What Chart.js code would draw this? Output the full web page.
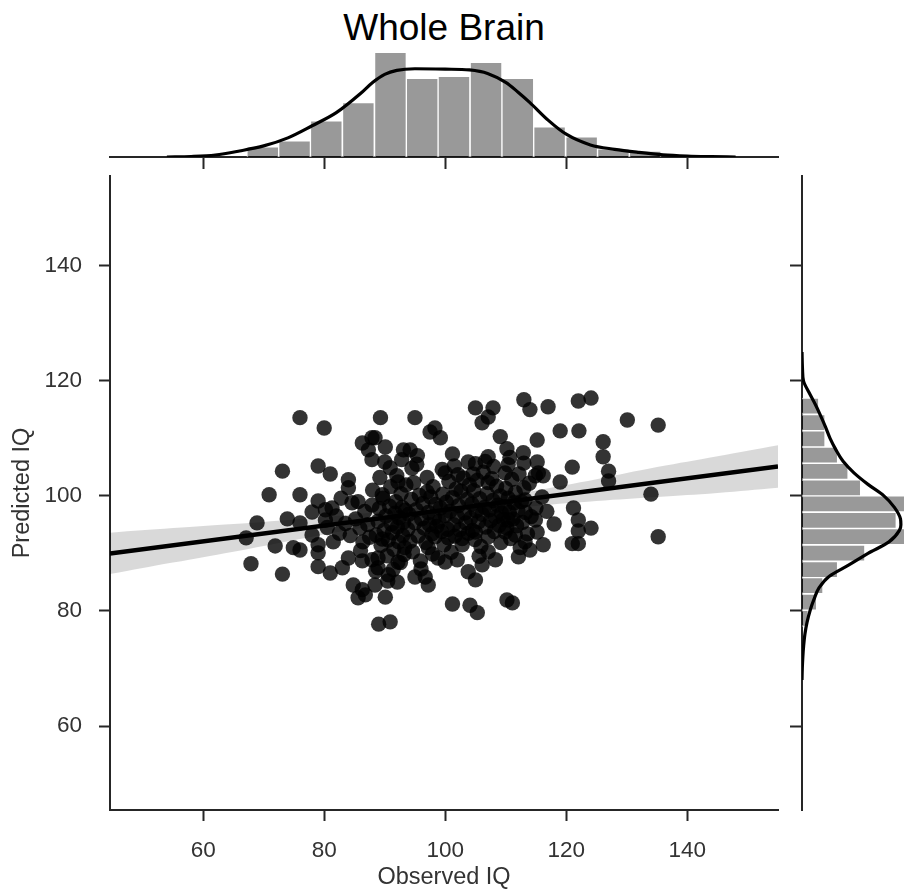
<!DOCTYPE html>
<html>
<head>
<meta charset="utf-8">
<script src="https://cdn.jsdelivr.net/npm/chart.js@4.4.0/dist/chart.umd.min.js"></script>
<style>
  html, body { margin: 0; padding: 0; background: #fff; overflow: hidden; width: 904px; height: 892px; }
  canvas { position: absolute; left: 0; top: 0; }
  #title { position: absolute; left: 110px; width: 668px; top: 9px; text-align: center;
           font: 37px 'Liberation Sans', Arial, sans-serif; line-height: 37px; color: #000; }
</style>
</head>
<body>
<div id="title">Whole Brain</div>
<canvas id="top" width="904" height="892"></canvas>
<canvas id="main" width="904" height="892"></canvas>
<canvas id="side" width="960" height="892"></canvas>
<script>
// axis ranges / ticks
const xMin = 44.6, xMax = 155.0;
const yMin = 45.4, yMax = 155.6;
const xTicks = [60, 80, 100, 120, 140];
const yTicks = [60, 80, 100, 120, 140];

// scatter: observed vs predicted IQ
const obsIQ = [
  67.1, 67.9, 68.9, 70.9, 71.9, 73.1, 73.1, 73.9, 74.9, 76.0,
  76.0, 76.0, 76.0, 78.0, 78.0, 79.0, 79.0, 79.0, 79.0, 79.0,
  80.0, 80.2, 80.2, 81.0, 81.3, 81.0, 83.0, 84.0, 84.0, 84.0,
  84.6, 84.8, 85.6, 86.3, 87.9, 87.9, 87.3, 87.9, 86.3, 85.6,
  86.8, 86.4, 86.3, 87.9, 88.4, 89.3, 90.1, 93.1, 90.9, 92.2,
  89.6, 90.1, 88.4, 90.9, 89.0, 92.1, 88.9, 88.9, 90.6, 92.2,
  95.0, 98.3, 97.5, 94.2, 95.4, 97.0, 95.0, 96.7, 97.2, 97.2,
  98.3, 99.2, 101.2, 103.8, 100.0, 102.1, 101.2, 98.8, 102.0, 100.0,
  102.8, 100.5, 103.8, 105.0, 107.9, 106.1, 107.1, 109.1, 107.1, 105.0,
  107.1, 104.1, 105.3, 105.0, 106.1, 108.3, 105.0, 107.1, 113.0, 114.0,
  110.2, 110.4, 113.0, 109.9, 110.2, 111.1, 112.1, 110.4, 111.6, 109.9,
  113.2, 114.0, 113.2, 117.0, 119.0, 115.2, 115.2, 115.4, 116.2, 114.9,
  119.0, 116.0, 118.0, 114.9, 115.2, 116.2, 115.0, 122.0, 124.1, 122.1,
  121.0, 121.2, 122.0, 124.1, 122.0, 121.0, 122.0, 130.1, 126.1, 126.1,
  127.0, 127.0, 135.2, 134.0, 135.2,
  // dense middle
  80.5, 82.0, 82.5, 81.5, 82.8, 83.5, 84.3, 85.2, 85.9, 86.7, 87.2, 86.0, 87.5, 88.0,
  88.6, 88.9, 89.1, 89.4, 89.7, 89.9, 90.2, 90.4, 90.6, 90.8,
  91.0, 91.1, 91.3, 91.5, 91.7, 91.8, 92.0, 92.1, 92.3, 92.4,
  92.6, 92.7, 92.9, 93.0, 93.1, 93.3, 93.4, 93.5, 88.5, 89.2,
  90.0, 90.5, 91.4, 92.8, 93.2, 89.6,
  93.8, 94.0, 94.2, 94.4, 94.6, 94.8, 95.0, 95.2, 95.5, 95.7,
  95.9, 96.1, 96.3, 96.5, 96.8, 97.0, 97.2, 97.4, 97.6, 97.8,
  98.0, 98.2, 98.4, 98.6, 94.5, 96.0, 97.9, 95.3,
  99.0, 99.2, 99.4, 99.6, 99.8, 100.0, 100.2, 100.4, 100.6, 100.8,
  101.0, 101.2, 101.4, 101.6, 101.8, 102.0, 102.2, 102.4, 102.6, 102.8,
  103.0, 103.2, 103.4, 103.6, 103.8, 104.0, 99.5, 101.5,
  104.2, 104.4, 104.5, 104.7, 104.9, 105.1, 105.3, 105.5, 105.7, 105.9,
  106.1, 106.3, 106.5, 106.7, 106.9, 107.1, 107.3, 107.5, 107.7, 107.9,
  108.1, 108.3, 108.5, 108.7, 108.9, 109.1, 109.3, 105.6, 106.6, 108.0, 104.6, 109.2,
  109.6, 109.8, 110.0, 110.2, 110.4, 110.6, 110.8, 111.0, 111.2, 111.4,
  111.6, 111.8, 112.0, 112.2, 112.4, 112.6, 112.8, 113.0, 113.3, 113.6,
  113.9, 114.2, 110.7, 112.9, 116.8
];
const predIQ = [
  92.7, 88.2, 95.3, 100.2, 91.3, 104.3, 86.4, 96.0, 91.0, 113.6,
  100.2, 95.3, 90.6, 97.2, 93.2, 105.2, 99.1, 91.5, 90.1, 87.7,
  111.8, 97.6, 95.8, 103.8, 97.9, 86.6, 87.5, 102.8, 101.4, 89.2,
  98.8, 84.5, 99.0, 109.2, 110.1, 106.3, 108.0, 98.4, 83.7, 82.3,
  82.8, 92.0, 88.7, 88.9, 110.1, 113.6, 108.5, 108.0, 104.9, 102.4,
  100.2, 82.4, 84.5, 78.1, 77.7, 85.0, 89.2, 87.5, 86.3, 88.5,
  113.6, 111.8, 111.1, 108.0, 107.0, 100.7, 85.9, 85.9, 84.5, 91.0,
  92.9, 110.1, 107.3, 105.9, 104.0, 103.7, 81.2, 89.2, 88.9, 88.5,
  91.5, 92.7, 86.8, 115.3, 115.3, 112.7, 113.7, 110.3, 106.8, 105.6,
  102.3, 81.0, 79.7, 85.4, 88.0, 88.9, 93.7, 90.3, 116.7, 115.0,
  108.2, 105.4, 105.7, 104.0, 81.9, 81.4, 89.4, 95.8, 93.2, 93.7,
  99.3, 90.6, 92.0, 115.5, 111.3, 109.7, 105.9, 104.0, 103.5, 103.5,
  102.4, 99.8, 95.1, 95.8, 93.7, 91.5, 97.9, 116.5, 117.0, 111.3,
  105.0, 97.9, 95.8, 94.4, 93.9, 91.7, 91.7, 113.2, 109.4, 106.8,
  104.3, 102.6, 112.3, 100.3, 92.9,
  // dense middle
  94.5, 96.5, 93.5, 92.0, 99.6, 95.2, 93.1, 96.0, 94.4, 97.3, 95.0, 90.5, 92.8, 101.0,
  93.2, 95.6, 97.8, 91.4, 99.6, 94.0, 96.5, 89.6, 92.3, 98.2,
  101.6, 95.1, 93.6, 90.7, 97.0, 99.0, 103.5, 94.6, 92.0, 96.2,
  88.4, 100.4, 98.0, 93.1, 95.4, 91.0, 97.5, 101.9, 86.9, 103.2,
  105.9, 85.2, 87.2, 106.3, 89.8, 92.5,
  94.2, 96.8, 92.1, 99.4, 90.3, 102.3, 95.3, 97.6, 93.0, 100.1,
  88.7, 96.0, 98.7, 94.4, 91.9, 103.2, 97.1, 95.0, 99.8, 93.4,
  101.6, 96.2, 98.5, 94.7, 104.8, 87.3, 89.9, 105.5,
  95.6, 97.9, 93.8, 100.3, 91.5, 96.6, 98.9, 94.2, 102.5, 97.3,
  90.2, 99.7, 95.0, 93.0, 101.2, 96.4, 98.3, 94.1, 100.8, 92.6,
  103.1, 97.0, 95.3, 99.4, 93.5, 101.9, 104.6, 105.2,
  96.1, 98.6, 94.0, 100.9, 92.4, 97.4, 102.7, 95.5, 99.5, 91.2,
  96.8, 104.1, 98.0, 94.6, 100.4, 92.9, 97.6, 95.7, 103.0, 99.2,
  93.8, 96.3, 101.7, 98.4, 94.9, 100.0, 97.0, 89.5, 106.0, 105.1, 103.8, 91.9,
  95.9, 98.1, 101.3, 94.4, 99.6, 97.1, 92.6, 102.9, 96.0, 98.8,
  100.6, 94.8, 97.5, 103.8, 91.0, 99.0, 95.4, 101.4, 97.1, 93.4,
  102.2, 96.4, 106.7, 107.5, 97.3
];

// regression line and its confidence band
const regX = [44.6, 155.0];
const regY = [90.0, 105.1];
const bandX  = [44.6, 55, 65, 75, 85, 95, 100, 105, 115, 125, 135, 145, 155];
const bandHi = [93.6, 94.4, 95.1, 95.9, 96.8, 97.9, 98.55, 99.2, 100.95, 102.9, 105.0, 106.9, 108.8];
const bandLo = [86.4, 88.4, 90.3, 92.3, 94.2, 95.9, 96.65, 97.2, 98.25, 99.1, 99.8, 100.5, 101.4];

// top margin: histogram + kde of Observed IQ
const topEdges = [67.2, 72.5, 77.7, 83.0, 88.3, 93.6, 98.8, 104.1, 109.4, 114.6, 119.9, 125.2, 130.4, 135.7];
const topCounts = [5, 8, 18, 27, 52, 39, 40, 47, 39, 15, 10, 4, 3];
const topKdeX = [54, 58, 62, 66, 70, 74, 78, 82, 86, 88, 90, 92, 95, 100, 104, 107, 110, 112, 114, 117, 120, 124, 128, 132, 136, 140, 144, 148];
const topKdeY = [0, 0.25, 1, 3, 5.5, 9.5, 15.5, 22, 31.5, 37, 41, 43, 43.8, 43.6, 43.2, 41.5, 37, 32.3, 27, 18.3, 11.3, 6, 3.8, 2.3, 1.1, 0.5, 0.2, 0];

// right margin: histogram + kde of Predicted IQ
const sideEdges = [77.3, 80.1, 83.0, 85.8, 88.6, 91.5, 94.3, 97.2, 100.0, 102.8, 105.7, 108.5, 111.3, 114.2, 117.0];
const sideCounts = [3, 7, 10, 17, 30, 50, 45, 49, 28, 22, 17, 11, 11, 8];
const sideKdeY = [68, 70, 72, 74, 76, 78, 80, 82, 84, 86, 88, 90, 92, 94, 95, 96, 98, 100, 102, 104, 106, 108, 110, 112, 114, 116, 118, 120, 122, 125];
const sideKdeX = [0, 0.14, 0.4, 0.8, 1.4, 2.4, 3.8, 5.7, 8.1, 12.9, 22.4, 31.5, 41.5, 46.5, 47.2, 47, 44.1, 39.1, 31.5, 24.8, 19.6, 16.2, 13.4, 11.2, 8.8, 6.2, 3.3, 0.7, 0.24, 0];

const ink = '#262626';
const labelInk = '#333';
Chart.defaults.font.family = "'Liberation Sans', Arial, sans-serif";
Chart.defaults.animation = false;

const setTicks = vals => s => { s.ticks = vals.map(v => ({ value: v })); };
const mids = edges => edges.slice(0, -1).map((e, i) => (e + edges[i + 1]) / 2);
const noPlugins = { legend: { display: false }, tooltip: { enabled: false } };

// main scatter
new Chart(document.getElementById('main'), {
  type: 'scatter',
  data: {
    datasets: [
      { type: 'line', data: regX.map((x, i) => ({ x, y: regY[i] })),
        borderColor: '#000', borderWidth: 4.5, pointRadius: 0, order: 0 },
      { type: 'line', data: bandX.map((x, i) => ({ x, y: bandHi[i] })),
        borderColor: 'rgba(0,0,0,0)', borderWidth: 0, pointRadius: 0, tension: 0.4,
        fill: '+1', backgroundColor: 'rgba(0,0,0,0.15)', order: 1 },
      { type: 'line', data: bandX.map((x, i) => ({ x, y: bandLo[i] })),
        borderColor: 'rgba(0,0,0,0)', borderWidth: 0, pointRadius: 0, tension: 0.4, fill: false, order: 2 },
      { type: 'scatter', data: obsIQ.map((x, i) => ({ x, y: predIQ[i] })),
        backgroundColor: 'rgba(0,0,0,0.8)', borderColor: 'rgba(0,0,0,0)', pointRadius: 7.7, pointBorderWidth: 0, order: 3 }
    ]
  },
  options: {
    responsive: false,
    layout: { padding: { left: 0, right: 126, top: 176, bottom: 0 }, autoPadding: false },
    plugins: noPlugins,
    scales: {
      x: {
        type: 'linear', min: xMin, max: xMax,
        afterBuildTicks: setTicks(xTicks),
        afterFit: s => { s.height = 82; },
        border: { display: true, color: ink, width: 2 },
        grid: { display: true, drawOnChartArea: false, drawTicks: true, tickLength: 11, tickColor: ink, tickWidth: 2 },
        ticks: { color: labelInk, font: { size: 22.5 }, padding: 16, maxRotation: 0, autoSkip: false },
        title: { display: true, text: 'Observed IQ', color: labelInk, font: { size: 23.5 }, padding: { top: 0, bottom: 0 } }
      },
      y: {
        type: 'linear', min: yMin, max: yMax,
        afterBuildTicks: setTicks(yTicks),
        afterFit: s => { s.width = 110; },
        border: { display: true, color: ink, width: 2 },
        grid: { display: true, drawOnChartArea: false, drawTicks: true, tickLength: 11, tickColor: ink, tickWidth: 2 },
        ticks: { color: labelInk, font: { size: 22.5 }, padding: 17, autoSkip: false },
        title: { display: true, text: 'Predicted IQ', color: labelInk, font: { size: 23.5 }, padding: { top: 8, bottom: 0 } }
      }
    }
  }
});

// top marginal
new Chart(document.getElementById('top'), {
  type: 'bar',
  data: {
    datasets: [
      { type: 'line', data: topKdeX.map((x, i) => ({ x, y: topKdeY[i] })),
        borderColor: '#000', borderWidth: 3.2, pointRadius: 0, cubicInterpolationMode: 'monotone', order: 0 },
      { type: 'bar', data: mids(topEdges).map((x, i) => ({ x, y: topCounts[i] })),
        backgroundColor: 'rgba(0,0,0,0.4)', borderColor: 'rgba(255,255,255,0.6)', borderWidth: 1,
        barPercentage: 1, categoryPercentage: 1, order: 1 }
    ]
  },
  options: {
    responsive: false,
    layout: { padding: { left: 110, right: 126, top: 47, bottom: 715 }, autoPadding: false },
    plugins: noPlugins,
    scales: {
      x: {
        type: 'linear', min: xMin, max: xMax, offset: false,
        afterBuildTicks: setTicks(xTicks),
        afterFit: s => { s.height = 20; },
        border: { display: true, color: ink, width: 2 },
        grid: { display: true, offset: false, drawOnChartArea: false, drawTicks: true, tickLength: 12, tickColor: ink, tickWidth: 2 },
        ticks: { display: false }
      },
      y: { display: false, min: 0, max: Math.max(...topCounts) * 1.05 }
    }
  }
});

// right marginal
new Chart(document.getElementById('side'), {
  type: 'bar',
  data: {
    datasets: [
      { type: 'line', data: sideKdeY.map((y, i) => ({ x: sideKdeX[i], y })),
        borderColor: '#000', borderWidth: 3.2, pointRadius: 0, cubicInterpolationMode: 'monotone', order: 0 },
      { type: 'bar', data: mids(sideEdges).map((y, i) => ({ x: sideCounts[i], y })),
        backgroundColor: 'rgba(0,0,0,0.4)', borderColor: 'rgba(255,255,255,0.6)', borderWidth: 1,
        barPercentage: 1, categoryPercentage: 1, order: 1 }
    ]
  },
  options: {
    indexAxis: 'y',
    responsive: false,
    layout: { padding: { left: 788, right: 48, top: 176, bottom: 82 }, autoPadding: false },
    plugins: noPlugins,
    scales: {
      x: { display: false, min: 0, max: Math.max(...sideCounts) * 1.05 },
      y: {
        type: 'linear', position: 'left', min: yMin, max: yMax, offset: false,
        afterBuildTicks: setTicks(yTicks),
        afterFit: s => { s.width = 14; },
        border: { display: true, color: ink, width: 2 },
        grid: { display: true, offset: false, drawOnChartArea: false, drawTicks: true, tickLength: 12, tickColor: ink, tickWidth: 2 },
        ticks: { display: false }
      }
    }
  }
});
</script>
</body>
</html>
